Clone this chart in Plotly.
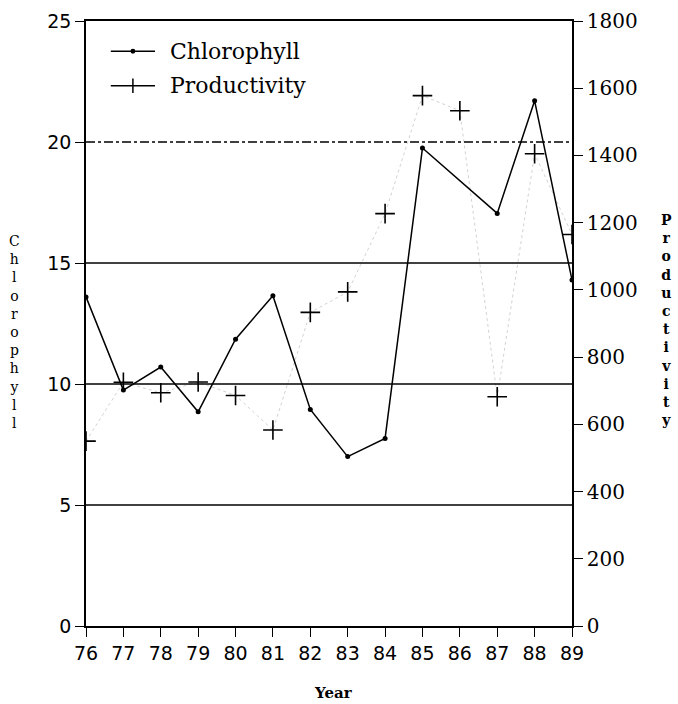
import plotly.graph_objects as go

years = [76, 77, 78, 79, 80, 81, 82, 83, 84, 85, 86, 87, 88, 89]
chl_years = [76, 77, 78, 79, 80, 81, 82, 83, 84, 85, 87, 88, 89]
chlorophyll = [13.6, 9.75, 10.7, 8.85, 11.85, 13.65, 8.95, 7.0, 7.75, 19.75, 17.05, 21.7, 14.3]
productivity = [550, 725, 694, 726, 686, 583, 933, 994, 1227, 1578, 1533, 682, 1405, 1165]
left_ticks = [0, 5, 10, 15, 20, 25]
right_ticks = [0, 200, 400, 600, 800, 1000, 1200, 1400, 1600, 1800]
grid_solid = [5, 10, 15]
grid_dashdot = [20]
left_title = "Chlorophyll"
right_title = "Productivity"
x_title = "Year"

fig = go.Figure()

# faint dotted connection between productivity points (as in the copy)
fig.add_trace(go.Scatter(x=years, y=productivity, yaxis="y2", mode="lines",
                         line=dict(color="rgba(0,0,0,0.18)", width=1, dash="dot"),
                         showlegend=False, hoverinfo="skip"))
fig.add_trace(go.Scatter(x=chl_years, y=chlorophyll, mode="lines+markers",
                         name="Chlorophyll",
                         line=dict(color="black", width=1.5),
                         marker=dict(color="black", size=5, symbol="circle"),
                         showlegend=False))
fig.add_trace(go.Scatter(x=years, y=productivity, yaxis="y2", mode="markers",
                         name="Productivity",
                         marker=dict(symbol="cross-thin-open", size=14, color="black",
                                     line=dict(color="black", width=1.6)),
                         showlegend=False))

shapes = []
for g in grid_solid:
    shapes.append(dict(type="line", xref="paper", x0=0, x1=1, yref="y", y0=g, y1=g,
                       line=dict(color="black", width=1.4), layer="below"))
for g in grid_dashdot:
    shapes.append(dict(type="line", xref="paper", x0=0, x1=1, yref="y", y0=g, y1=g,
                       line=dict(color="black", width=1.4, dash="dashdot"), layer="below"))

# manual legend
lx0, lx1, lxm = 0.051, 0.142, 0.0965
ly1, ly2 = 0.950, 0.893
shapes.append(dict(type="line", xref="paper", yref="paper", x0=lx0, x1=lx1, y0=ly1, y1=ly1,
                   line=dict(color="black", width=1.5)))
shapes.append(dict(type="circle", xref="paper", yref="paper",
                   x0=lxm - 0.005, x1=lxm + 0.005, y0=ly1 - 0.004, y1=ly1 + 0.004,
                   fillcolor="black", line=dict(color="black", width=0)))
shapes.append(dict(type="line", xref="paper", yref="paper", x0=lx0, x1=lx1, y0=ly2, y1=ly2,
                   line=dict(color="black", width=1.5)))
shapes.append(dict(type="line", xref="paper", yref="paper", x0=lxm, x1=lxm,
                   y0=ly2 - 0.012, y1=ly2 + 0.012, line=dict(color="black", width=1.5)))

annotations = [
    dict(text="Chlorophyll", xref="paper", yref="paper", x=0.169, y=ly1, xanchor="left",
         yanchor="middle", showarrow=False,
         font=dict(family="DejaVu Serif", size=22, color="black")),
    dict(text="Productivity", xref="paper", yref="paper", x=0.169, y=ly2, xanchor="left",
         yanchor="middle", showarrow=False,
         font=dict(family="DejaVu Serif", size=22, color="black")),
    dict(text="<br>".join(left_title), xref="paper", yref="paper",
         x=-0.148, y=0.486, xanchor="center", yanchor="middle", showarrow=False,
         font=dict(family="DejaVu Serif", size=14, color="black")),
    dict(text="<b>" + "<br>".join(right_title) + "</b>", xref="paper", yref="paper",
         x=1.195, y=0.506, xanchor="center", yanchor="middle", showarrow=False,
         font=dict(family="DejaVu Serif", size=14, color="black")),
    dict(text="<b>" + x_title + "</b>", xref="paper", yref="paper", x=0.51, y=-0.11,
         xanchor="center", yanchor="middle", showarrow=False,
         font=dict(family="DejaVu Serif", size=15, color="black")),
]

fig.update_layout(
    width=678, height=704,
    margin=dict(l=86, r=106, t=21, b=78, autoexpand=False),
    paper_bgcolor="white", plot_bgcolor="white",
    showlegend=False,
    shapes=shapes, annotations=annotations,
    xaxis=dict(range=[76, 89], tickvals=years, ticktext=[str(y) for y in years],
               ticks="outside", ticklen=9, tickwidth=1.3, tickcolor="black",
               showline=True, linecolor="black", linewidth=1.5, mirror=True,
               showgrid=False, zeroline=False,
               tickfont=dict(family="DejaVu Sans", size=19, color="black")),
    yaxis=dict(range=[0, 25], tickvals=left_ticks,
               ticks="outside", ticklen=9, tickwidth=1.3, tickcolor="black",
               showline=True, linecolor="black", linewidth=1.5,
               showgrid=False, zeroline=False,
               tickfont=dict(family="DejaVu Sans", size=19, color="black")),
    yaxis2=dict(range=[0, 1800], tickvals=right_ticks, overlaying="y", side="right",
                ticks="outside", ticklen=9, tickwidth=1.3, tickcolor="black",
                showline=True, linecolor="black", linewidth=1.5,
                showgrid=False, zeroline=False,
                tickfont=dict(family="DejaVu Serif", size=20, color="black")),
)

fig.write_html("out.html", config={"displayModeBar": False},
               post_script="document.body.style.margin='0px';")
